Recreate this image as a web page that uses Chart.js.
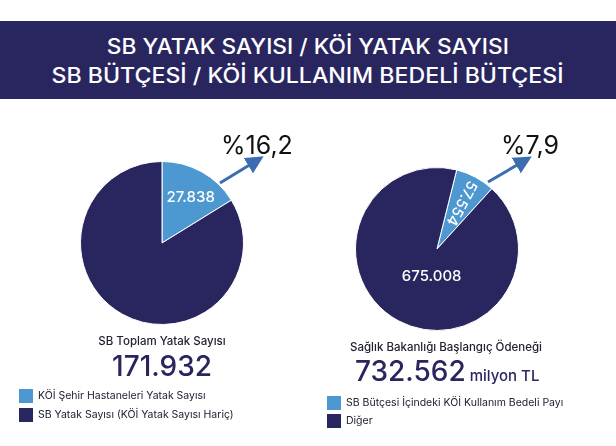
<!DOCTYPE html>
<html lang="tr">
<head>
<meta charset="utf-8">
<script src="https://cdn.jsdelivr.net/npm/chart.js@4/dist/chart.umd.min.js"></script>
<style>
  html, body { margin: 0; padding: 0; background: #ffffff; }
  body { width: 616px; height: 446px; position: relative; overflow: hidden; font-family: "Inter", "Noto Sans", sans-serif; }
  #band { position: absolute; left: 0; top: 21px; width: 616px; height: 78px; background: #29265f; }
  .title { position: absolute; left: 0; width: 616px; text-align: center; color: #ffffff; font-size: 21px; font-weight: 500; white-space: nowrap; line-height: 25px; }
  .title span { display: inline-block; transform-origin: 50% 50%; }
  .pie { position: absolute; width: 164px; height: 164px; }
  .pct { position: absolute; color: #111111; font-size: 25px; font-weight: 400; white-space: nowrap; line-height: 1; }
  .sub { position: absolute; color: #222233; font-size: 11.5px; font-weight: 500; white-space: nowrap; text-align: center; line-height: 12px; }
  .big { position: absolute; color: #29265f; font-size: 28px; font-weight: 500; white-space: nowrap; line-height: 1; }
  .unit { font-size: 15px; margin-left: 4px; }
  .leg { position: absolute; font-size: 10.5px; color: #222233; white-space: nowrap; }
  .leg div { position: relative; height: 14px; }
  .leg span.box { position: absolute; left: 0; top: 0; width: 14px; height: 14px; }
  .leg span.txt { position: absolute; left: 19px; top: 0; line-height: 14px; }
  svg { position: absolute; left: 0; top: 0; }
</style>
</head>
<body>
<div id="band"></div>
<div class="title" style="top:34px;"><span id="t1">SB YATAK SAYISI / KÖİ YATAK SAYISI</span></div>
<div class="title" style="top:63px;"><span id="t2">SB BÜTÇESİ / KÖİ KULLANIM BEDELİ BÜTÇESİ</span></div>

<div class="pie" style="left:80px; top:161px;"><canvas id="bedPie"></canvas></div>
<div class="pie" style="left:355px; top:167px;"><canvas id="budgetPie"></canvas></div>

<svg width="616" height="446" viewBox="0 0 616 446">
  <defs>
    <marker id="ah" markerWidth="6" markerHeight="6" refX="3" refY="3" orient="auto" markerUnits="strokeWidth">
      <path d="M0,0 L6,3 L0,6 z" fill="#3c6db0"/>
    </marker>
  </defs>
  <line x1="220" y1="183" x2="256" y2="161" stroke="#3c6db0" stroke-width="3" marker-end="url(#ah)"/>
  <line x1="488" y1="182" x2="524" y2="161" stroke="#3c6db0" stroke-width="3" marker-end="url(#ah)"/>
</svg>

<div class="pct" id="pct1" style="left:221px; top:133px;"></div>
<div class="pct" id="pct2" style="left:501px; top:133px;"></div>

<div class="sub" id="sub1" style="left:62px; width:200px; top:335px;">SB Toplam Yatak Sayısı</div>
<div class="big" id="big1" style="left:62px; width:200px; text-align:center; top:352px;"></div>
<div class="leg" id="leg1" style="left:19px; top:389px;"></div>

<div class="sub" id="sub2" style="left:346px; width:200px; top:341px;">Sağlık Bakanlığı Başlangıç Ödeneği</div>
<div class="big" id="big2" style="left:355px; top:357px;"></div>
<div class="leg" id="leg2" style="left:327px; top:396px;"></div>

<script>
// ---- data ----
const bedCategories = ['KÖİ Şehir Hastaneleri Yatak Sayısı', 'SB Yatak Sayısı (KÖİ Yatak Sayısı Hariç)'];
const bedValues = [27838, 144094];

const budgetCategories = ['SB Bütçesi İçindeki  KÖİ Kullanım Bedeli Payı', 'Diğer'];
const budgetValues = [57554, 675008];
const budgetUnit = 'milyon TL';

const sliceColors = ['#4e98d2', '#29265f'];

// ---- helpers ----
function fmtTr(n) { return String(n).replace(/\B(?=(\d{3})+(?!\d))/g, '.'); }
function pctTr(part, total) { return '%' + (part / total * 100).toFixed(1).replace('.', ','); }
const sum = a => a.reduce((s, v) => s + v, 0);

const bedTotal = sum(bedValues);
const budgetTotal = sum(budgetValues);

document.getElementById('pct1').textContent = pctTr(bedValues[0], bedTotal);
document.getElementById('pct2').textContent = pctTr(budgetValues[0], budgetTotal);
document.getElementById('big1').textContent = fmtTr(bedTotal);
document.getElementById('big2').innerHTML = fmtTr(budgetTotal) + '<span class="unit">' + budgetUnit + '</span>';

// widen title lines (reference uses a wide geometric face)
function fitWidth(id, target) {
  const el = document.getElementById(id);
  const w = el.getBoundingClientRect().width;
  el.style.transform = 'scaleX(' + (target / w) + ')';
}
fitWidth('t1', 402);
fitWidth('t2', 512);

function buildLegend(id, cats, gap) {
  const el = document.getElementById(id);
  cats.forEach((c, i) => {
    const row = document.createElement('div');
    row.style.marginBottom = gap + 'px';
    row.innerHTML = '<span class="box" style="background:' + sliceColors[i] + '"></span><span class="txt"></span>';
    row.querySelector('.txt').textContent = c;
    el.appendChild(row);
  });
}
buildLegend('leg1', bedCategories, 5);
buildLegend('leg2', budgetCategories, 4);

// ---- slice label plugin ----
const sliceLabels = {
  id: 'sliceLabels',
  afterDatasetsDraw(chart, args, opts) {
    const meta = chart.getDatasetMeta(0);
    const ctx = chart.ctx;
    (opts.items || []).forEach(it => {
      const arc = meta.data[it.index];
      if (!arc) return;
      const p = arc.getProps(['x', 'y', 'startAngle', 'endAngle', 'outerRadius'], true);
      const mid = (p.startAngle + p.endAngle) / 2 + (it.angleOffset || 0) * Math.PI / 180;
      const r = p.outerRadius * it.r;
      const x = p.x + Math.cos(mid) * r;
      const y = p.y + Math.sin(mid) * r;
      ctx.save();
      ctx.translate(x, y);
      if (it.radial) ctx.rotate(mid + Math.PI);
      ctx.fillStyle = '#ffffff';
      ctx.font = '500 15px Inter, "Noto Sans", sans-serif';
      ctx.textAlign = 'center';
      ctx.textBaseline = 'middle';
      ctx.fillText(fmtTr(chart.data.datasets[0].data[it.index]), 0, 0);
      ctx.restore();
    });
  }
};

function makePie(id, cats, vals, rotation, items) {
  return new Chart(document.getElementById(id), {
    type: 'pie',
    data: {
      labels: cats,
      datasets: [{ data: vals, backgroundColor: sliceColors, borderColor: '#ffffff', borderWidth: 1 }]
    },
    options: {
      responsive: false,
      animation: false,
      rotation: rotation,
      layout: { padding: 0 },
      plugins: {
        legend: { display: false },
        tooltip: { enabled: false },
        sliceLabels: { items: items }
      }
    },
    plugins: [sliceLabels]
  });
}

function sizeCanvas(id) {
  const c = document.getElementById(id);
  c.width = 164; c.height = 164;
  c.style.width = '164px'; c.style.height = '164px';
}
sizeCanvas('bedPie');
sizeCanvas('budgetPie');

makePie('bedPie', bedCategories, bedValues, 0, [{ index: 0, r: 0.66, angleOffset: 3 }]);
makePie('budgetPie', budgetCategories, budgetValues, 14, [
  { index: 0, r: 0.64, radial: true },
  { index: 1, r: 0.34, angleOffset: -17 }
]);
</script>
</body>
</html>
